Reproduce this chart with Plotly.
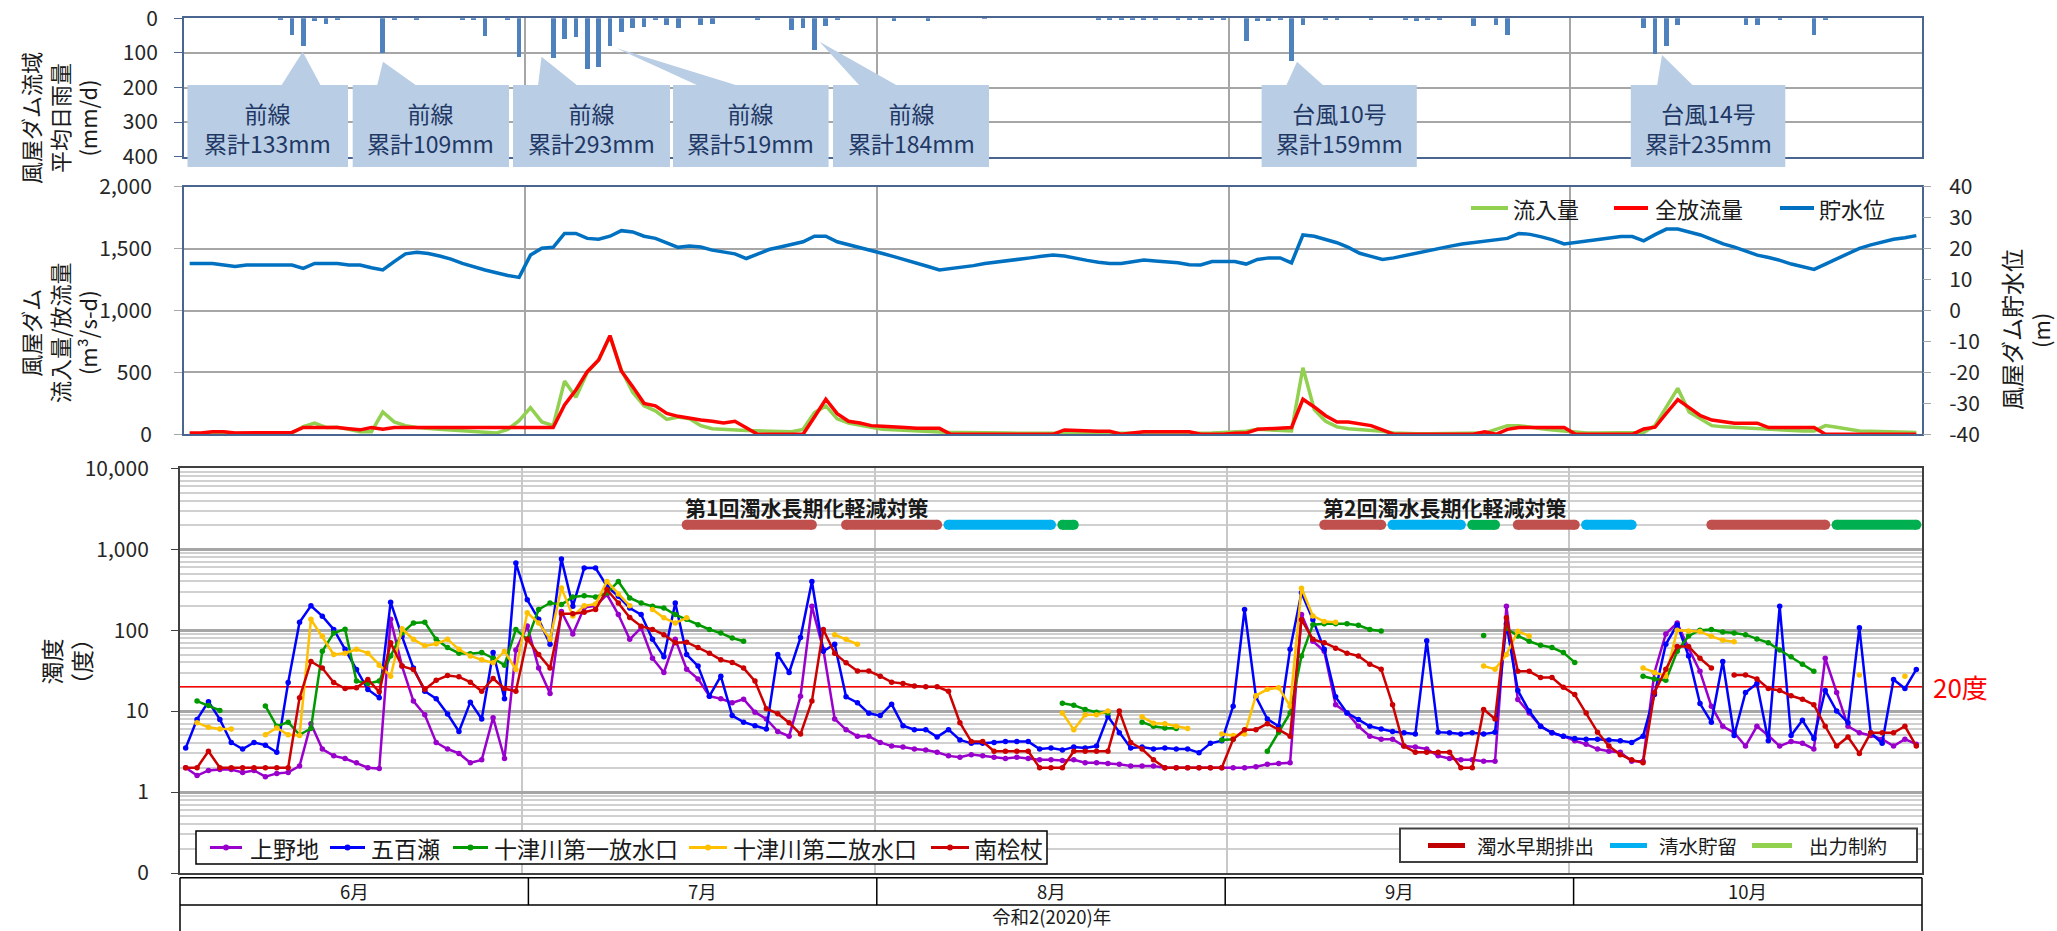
import plotly.graph_objects as go
import pandas as pd

N = None
# ---------------- data ----------------
days = pd.date_range("2020-06-01", "2020-10-31", freq="D")

rain_dates = ["2020-06-09","2020-06-10","2020-06-11","2020-06-12","2020-06-13","2020-06-14",
              "2020-06-18","2020-06-19","2020-06-21","2020-06-25","2020-06-26","2020-06-27","2020-06-29","2020-06-30",
              "2020-07-03","2020-07-04","2020-07-05","2020-07-06","2020-07-07","2020-07-08","2020-07-09","2020-07-10",
              "2020-07-11","2020-07-12","2020-07-13","2020-07-14","2020-07-16","2020-07-17","2020-07-21",
              "2020-07-24","2020-07-25","2020-07-26","2020-07-27","2020-07-28",
              "2020-08-02","2020-08-05","2020-08-10","2020-08-20","2020-08-21","2020-08-22","2020-08-23","2020-08-24",
              "2020-08-25","2020-08-27","2020-08-28","2020-08-29","2020-08-30","2020-08-31",
              "2020-09-02","2020-09-03","2020-09-04","2020-09-05","2020-09-06","2020-09-07","2020-09-09","2020-09-10",
              "2020-09-13","2020-09-16","2020-09-17","2020-09-18","2020-09-19","2020-09-22","2020-09-24","2020-09-25",
              "2020-10-07","2020-10-08","2020-10-09","2020-10-10","2020-10-16","2020-10-17","2020-10-19","2020-10-22","2020-10-23"]
rain_mm = [5,48,80,10,17,5, 101,4,3,4,7,53,5,113, 116,61,56,147,141,80,40,29, 26,5,20,29,19,16,5,
           36,29,92,24,5, 8,8,2,4,5,7,5,4, 5,4,6,7,5,4, 67,8,8,5,125,19,6,7, 6,3,8,7,3,22,19,48,
           29,103,80,21,19,19,4,48,6]

inflow = ([5,5,8,10,8,5,5,5,5,10, 62,90,55,57,40,20,20,180,100,70, 55,45,40,35,30,25,20,10,40,110]
          + [215,100,70,430,300,500,600,790,520,340, 230,190,120,140,125,70,45,38,32,30, 28,25,22,20,40,175,229,125,90,70, 57]
          + [40,35,30,25,20,15,15,15,12,12, 10,10,8,8,8,8,8,5,5,5, 5,8,8,5,5,5,5,5,5,10,15]
          + [20,25,40,35,30,27,538,200,105,60, 45,40,35,25,10,5,5,5,5,5, 5,5,10,40,70,70,55,45,35,27]
          + [20,10,10,10,10,10,15,72,220,371, 180,124,70,60,55,45,43,40,35,30, 27,27,70,57,45,27,25,21,20,18,15])
discharge = ([10,10,20,20,10,10,10,15,15,15, 55,55,55,55,45,36,55,40,55,55, 55,55,55,55,55,55,55,55,55,55]
             + [55,55,55,237,358,506,600,797,511,385, 250,230,168,145,128,115,105,91,105,50, 0,0,0,0,0,140,283,167,105,91, 70]
             + [65,62,55,48,48,48,0,0,0,0, 0,0,0,0,0,0,35,30,25,25, 25,0,10,21,21,21,21,21,0,0,0]
             + [8,10,40,45,50,55,283,221,150,100, 100,85,70,35,0,0,0,0,0,0, 0,0,21,0,40,55,55,55,55,55]
             + [0,0,0,0,0,0,43,57,170,280, 215,150,115,104,90,90,90,54,54,54, 54,54,0,0,0,0,0,0,0,0,0])
level = ([15.2,15.2,15.2,14.7,14.2,14.7,14.7,14.7,14.7,14.7, 13.6,15.2,15.2,15.2,14.7,14.7,13.8,13.1,15.8,18.3,
          18.8,18.4,17.6,16.6,15.2,14.1,13.1,12.2,11.3,10.7]
         + [17.9,20.1,20.4,24.9,24.9,23.3,23.0,24.0,25.8,25.4, 24.0,23.3,21.9,20.4,20.8,20.5,19.5,19.0,18.3,16.8,
            18.3,19.7,20.5,21.3,22.2,24.0,24.0,22.2,21.3,20.4, 19.4]
         + [18.4,17.4,16.4,15.4,14.2,13.1,13.5,14.0,14.5,15.2, 15.6,16.0,16.5,17.0,17.5,17.9,17.6,16.8,16.2,15.6,
            15.2,15.2,15.8,16.3,16.0,15.8,15.4,14.8,14.7,15.8,15.8]
         + [15.8,15.0,16.5,17.0,17.0,15.4,24.4,24.0,22.8,21.9, 20.4,18.5,17.5,16.5,17.0,17.8,18.5,19.3,20.1,20.8,
            21.5,22.0,22.4,22.9,23.3,24.9,24.6,23.8,22.8,21.5]
         + [22.0,22.6,23.0,23.4,23.9,23.9,22.5,24.5,26.3,26.3, 25.3,24.4,23.0,21.5,20.5,19.2,17.9,17.1,16.2,15.0,
            14.2,13.3,15.0,16.8,18.5,20.1,21.2,22.2,23.0,23.5,24.2])

station_names = ["上野地", "五百瀬", "十津川第一放水口", "十津川第二放水口", "南桧杖"]
uenoji = ([2.0,1.6,1.85,1.9,1.9,1.75,1.85,1.55,1.7,1.75, 2.1,7.0,3.4,2.8,2.6,2.3,2.0,1.95,136,36, 13.3,9.0,4.1,3.4,3.0,2.3,2.5,8.3,2.6,57]
          + [113,34,16.5,170,90,190,200,275,156,77, 107,45,30,77,33,25,15.3,14.2,12.7,14, 9.7,8.0,5.6,4.9,15.3,197,58,8.0,5.9,4.9, 4.9]
          + [4.1,3.7,3.6,3.4,3.3,3.1,2.8,2.7,2.9,2.8, 2.7,2.6,2.7,2.6,2.5,2.5,2.45,2.5,2.3,2.3, 2.25,2.2,2.1,2.1,2.1,2.0,2.0,2.0,2.0,2.0,2.0]
          + [2.0,2.0,2.05,2.2,2.25,2.3,156,73,55,12, 9.5,6.5,4.9,4.5,4.5,3.7,3.6,3.4,2.8,2.6, 2.5,2.5,2.4,2.4,197,13.9,9.5,6.5,5.4,4.9]
          + [4.3,3.9,3.4,3.2,3.1,2.4,2.4,30,90,123, 60,31,11.5,6.5,5.4,3.7,6.5,5.0,3.7,4.2, 4.0,3.4,45,17,6.5,5.4,5.0,4.5,3.7,4.5,3.9])
ioze = ([3.5,7.9,13.1,7.9,4.1,3.4,4.1,3.8,3.1,22.5, 125,200,149,102,58,32.7,18.5,14.6,222,84, 34,17.6,14.2,9.2,5.6,12.9,8.0,53,14.2,674]
        + [237,136,67,757,197,585,585,349,262,188, 156,77,47,217,50,36,15.3,27,8.8,7.3, 6.6,6.0,50,30,81,400,55,67,15,12.7, 9.4]
        + [8.8,12.2,6.6,5.9,5.9,4.8,5.9,4.4,4.0,4.0, 4.1,4.2,4.2,4.2,3.4,3.5,3.3,3.6,3.5,3.7, 8.6,5.4,3.5,3.6,3.4,3.5,3.4,3.4,3.07,4.0,4.3]
        + [11.5,180,15,8,6.5,58,290,135,58,15, 9.5,7.9,6.5,6.0,5.6,5.4,5.2,74,5.5,5.4, 5.2,5.4,5.2,5.5,120,18,10,6.5,5.4,4.9]
        + [4.6,4.5,4.5,4.4,4.3,4.1,4.9,16,67,117, 48,12.4,7.3,41,5.0,17,22,4.3,197,5.0, 7.7,4.6,18,10,7.2,107,5.4,4.0,24.6,19,32.7])
totsu1 = ([N,13.3,11.7,10.2,N,N,N,11.6,6.5,7.3, 5.1,6.1,55,92,103,23.5,22,23.5,48,92, 123,125,77,61,52,51,53,45,37,102]
          + [77,180,217,207,257,267,257,288,400,250, 217,197,188,156,136,117,102,92,80,73, N,N,N,N,N,N,N,N,N,N, N]
          + [N]*16 + [12.5,11.8,10.5,9.7,9.5, N,N, 7.3,6.5,6.2,6.1, N,N,N, 4.4]
          + [4.5,N,N,3.2,5.5,9.5,48,117,120,120, 120,115,102,98,N,N,N,N,N,N, N,N,86,N,105,85,73,65,61,53]
          + [40,N,N,N,N,N,27,25,24,55, 85,100,102,95,92,88,78,70,57,47, 38,31,N,N,N,N,N,N,N,N,N])
totsu2 = ([N,7.2,6.3,6.0,6.0,N,N,5.1,6.2,5.1, 5.0,136,84,50,52,58,52,37,27,104, 77,64,68,77,58,48,43,39.5,55,32.7]
          + [164,123,77,333,150,200,210,400,280,200, N,180,142,123,142,N,N,N,N,N, N,N,N,N,N,N,N,88,77,67, N]
          + [N]*16 + [9.5,5.9,9.0,9.0,10, N,N, 8.5,7.1,7.0,6.5,6.1, N,N, 5.2]
          + [5.0,5.2,15.5,18.6,19.5,11.5,330,150,128,125, N,N,N,N,N,N,N,N,N,N, N,N,36,33,50,97,85,N,N,N]
          + [N,N,N,N,N,N,34,30,27,100, 98,96,84,75,72,N,N,N,N,N, N,N,N,N,N,28,N,N,N,27,N])
minami = ([2.0,2.0,3.2,2.0,2.0,2.0,2.0,2.0,2.0,2.0, 14.6,41,34,22.5,19,19.4,24.6,17.3,70,36, 32.7,18.5,24,27.5,26.5,22.8,17.6,25.3,19,17.6]
          + [78,50,34,160,160,167,180,317,217,143, 112,102,88,70,71,61,52,43,40,34, 23.5,10.7,9.3,7.2,5.2,13.3,102,52,39.5,31.2, 31.2]
          + [27,22.8,22,20.4,20,20,17.6,7.2,4.2,4.2, 3.2,3.2,3.2,3.2,2.0,2.0,2.0,3.2,3.2,3.2, 3.2,10,4.1,3.4,2.5,2.0,2.0,2.0,2.0,2.0,2.0]
          + [4.5,5.9,5.9,7.0,5.9,4.9,135,77,70,60, 52,48,38,33,12,3.7,3.1,3.1,3.1,3.1, 2.0,2.0,10.5,8,142,31,31,26,26,19.7]
          + [16,9.5,5.5,3.7,2.9,2.5,2.3,17,33,63, 63,45,34,N,28,28,25,19,18,15.5, 14,12,6.5,3.7,4.8,3.0,5.4,5.4,5.4,6.5,3.7])

measure_types = ["濁水早期排出", "清水貯留", "出力制約"]
measure_kind = ["濁水早期排出","濁水早期排出","清水貯留","出力制約","濁水早期排出","清水貯留","出力制約",
                "濁水早期排出","清水貯留","濁水早期排出","出力制約"]
measure_start = ["2020-07-15","2020-07-29","2020-08-07","2020-08-17","2020-09-09","2020-09-15","2020-09-22",
                 "2020-09-26","2020-10-02","2020-10-13","2020-10-24"]
measure_end = ["2020-07-26","2020-08-06","2020-08-16","2020-08-18","2020-09-14","2020-09-21","2020-09-24",
               "2020-10-01","2020-10-06","2020-10-23","2020-10-31"]
measure_titles = ["第1回濁水長期化軽減対策", "第2回濁水長期化軽減対策"]
measure_title_dates = ["2020-07-15", "2020-09-09"]

callout_titles = ["前線", "前線", "前線", "前線", "前線", "台風10号", "台風14号"]
callout_totals = [133, 109, 293, 519, 184, 159, 235]

months = ["6月", "7月", "8月", "9月", "10月"]
year_label = "令和2(2020)年"
turbidity_limit = 20

for arr in (inflow, discharge, level, uenoji, ioze, totsu1, totsu2, minami):
    assert len(arr) == len(days), len(arr)

# ---------------- layout helpers ----------------
FONT = "Noto Sans CJK JP"
W, H, OFF = 2057, 931, 0
def fx(X): return (X - OFF) / W
def fy(Y): return 1 - (Y - OFF) / H

DAY = 86400000
xr = ["2020-06-01", "2020-11-01"]
month_starts = ["2020-07-01", "2020-08-01", "2020-09-01", "2020-10-01"]
grid_c = "#A6A6A6"
frame_c = "#4A6690"
tick_font = dict(family=FONT, size=21, color="#262626")

fig = go.Figure()

# top: rainfall bars
fig.add_trace(go.Bar(x=rain_dates, y=rain_mm, xperiod=DAY, xperiodalignment="middle",
                     width=0.42 * DAY, marker=dict(color="#4F81BD", line=dict(width=0)),
                     xaxis="x", yaxis="y"))

# middle: inflow / discharge / level
fig.add_trace(go.Scatter(x=days, y=inflow, mode="lines", line=dict(color="#92D050", width=3.5),
                         xperiod=DAY, xperiodalignment="middle", xaxis="x2", yaxis="y2"))
fig.add_trace(go.Scatter(x=days, y=discharge, mode="lines", line=dict(color="#FF0000", width=3.5),
                         xperiod=DAY, xperiodalignment="middle", xaxis="x2", yaxis="y2"))
fig.add_trace(go.Scatter(x=days, y=level, mode="lines", line=dict(color="#0070C0", width=3.5),
                         xperiod=DAY, xperiodalignment="middle", xaxis="x2", yaxis="y3"))

# bottom: 20 degree line
fig.add_trace(go.Scatter(x=xr, y=[turbidity_limit, turbidity_limit], mode="lines",
                         line=dict(color="#FF0000", width=1.5), xaxis="x3", yaxis="y4"))

station_colors = ["#9900CC", "#0000FF", "#009900", "#FFC000", "#CC0000"]
for vals, col in zip([uenoji, ioze, totsu1, totsu2, minami], station_colors):
    fig.add_trace(go.Scatter(x=days, y=vals, mode="lines+markers",
                             line=dict(color=col, width=2.5), marker=dict(color=col, size=5.5),
                             xperiod=DAY, xperiodalignment="middle", xaxis="x3", yaxis="y4"))

bar_colors = {"濁水早期排出": "#C0504D", "清水貯留": "#00B0F0", "出力制約": "#00B050"}
for k, s, e in zip(measure_kind, measure_start, measure_end):
    fig.add_trace(go.Scatter(x=[s, e], y=[2000, 2000], mode="lines+markers",
                             line=dict(color=bar_colors[k], width=10),
                             marker=dict(color=bar_colors[k], size=10, line=dict(width=0)),
                             xperiod=DAY, xperiodalignment="middle", xaxis="x3", yaxis="y4"))

minor_vals = [m * 10 ** e for e in range(-1, 4) for m in range(2, 10)]

fig.update_layout(
    width=W, height=H, autosize=False, margin=dict(l=0, r=0, t=0, b=0, pad=0, autoexpand=False),
    paper_bgcolor="white", plot_bgcolor="white", showlegend=False,
    font=dict(family=FONT, size=21, color="#262626"),
    bargap=0,
    xaxis=dict(domain=[fx(184), fx(1922)], range=xr, type="date", anchor="y", automargin=False,
               tickmode="array", tickvals=month_starts, showticklabels=False, ticks="",
               showgrid=True, gridcolor=grid_c, gridwidth=1.5, zeroline=False,
               showline=True, mirror=True, linecolor=frame_c, linewidth=2),
    yaxis=dict(domain=[fy(156.7), fy(18.3)], range=[400, 0], anchor="x", automargin=False,
               tickmode="array", tickvals=[0, 100, 200, 300, 400], ticks="outside", ticklen=8,
               tickcolor=frame_c, tickfont=tick_font, ticklabelstandoff=12,
               showgrid=True, gridcolor=grid_c, gridwidth=1.5, zeroline=False,
               showline=True, mirror=True, linecolor=frame_c, linewidth=2),
    xaxis2=dict(domain=[fx(184), fx(1922)], range=xr, type="date", anchor="y2", automargin=False,
                tickmode="array", tickvals=month_starts, showticklabels=False, ticks="",
                showgrid=True, gridcolor=grid_c, gridwidth=1.5, zeroline=False,
                showline=True, mirror=True, linecolor=frame_c, linewidth=2),
    yaxis2=dict(domain=[fy(434.3), fy(186.7)], range=[0, 2000], anchor="x2", automargin=False,
                tickmode="array", tickvals=[0, 500, 1000, 1500, 2000],
                ticktext=["0", "500", "1,000", "1,500", "2,000"],
                ticks="outside", ticklen=8, tickcolor=grid_c, tickfont=tick_font, ticklabelstandoff=18,
                showgrid=True, gridcolor=grid_c, gridwidth=1.5, zeroline=False,
                showline=True, mirror=True, linecolor=frame_c, linewidth=2),
    yaxis3=dict(overlaying="y2", side="right", range=[-40, 40], anchor="x2", automargin=False,
                tickmode="array", tickvals=list(range(-40, 41, 10)),
                ticktext=[str(v) for v in range(-40, 41, 10)],
                ticks="outside", ticklen=8, tickcolor=grid_c, tickfont=tick_font, ticklabelstandoff=14,
                showgrid=False, zeroline=False, showline=False),
    xaxis3=dict(domain=[fx(180), fx(1922)], range=xr, type="date", anchor="y4", automargin=False,
                tickmode="array", tickvals=month_starts, showticklabels=False, ticks="",
                showgrid=True, gridcolor="#C8C8C8", gridwidth=1.5, zeroline=False,
                showline=True, mirror=True, linecolor="#404040", linewidth=2),
    yaxis4=dict(domain=[fy(873), fy(468.3)], type="log", range=[-1, 4], anchor="x3", automargin=False,
                tickmode="array", tickvals=[0.1, 1, 10, 100, 1000, 10000],
                ticktext=["0", "1", "10", "100", "1,000", "10,000"],
                ticks="outside", ticklen=7, tickcolor="#404040", tickfont=tick_font, ticklabelstandoff=18,
                showgrid=True, gridcolor="#A6A6A6", gridwidth=2.5, zeroline=False,
                minor=dict(tickvals=minor_vals, showgrid=True, gridcolor="#D0D0D0", gridwidth=1.5, ticks=""),
                showline=True, mirror=True, linecolor="#404040", linewidth=2),
)

shapes, annos = [], []
def hline(x0, x1, y, color, width):
    shapes.append(dict(type="line", xref="paper", yref="paper", x0=fx(x0), x1=fx(x1), y0=fy(y), y1=fy(y),
                       line=dict(color=color, width=width)))
def vline(x, y0, y1, color, width):
    shapes.append(dict(type="line", xref="paper", yref="paper", x0=fx(x), x1=fx(x), y0=fy(y0), y1=fy(y1),
                       line=dict(color=color, width=width)))
def dot(cx, cy, r, color):
    shapes.append(dict(type="circle", xref="paper", yref="paper", x0=fx(cx - r), x1=fx(cx + r),
                       y0=fy(cy + r), y1=fy(cy - r), fillcolor=color, line=dict(width=0)))
def rect(x0, x1, y0, y1, fill, line_color=None, line_width=0):
    shapes.append(dict(type="rect", xref="paper", yref="paper", x0=fx(x0), x1=fx(x1), y0=fy(y1), y1=fy(y0),
                       fillcolor=fill, line=dict(color=line_color or fill, width=line_width), layer="above"))
def text(x, y, s, size, color="#1a1a1a", xanchor="left", angle=0, pad=1):
    annos.append(dict(x=fx(x), y=fy(y), xref="paper", yref="paper", text=s, showarrow=False,
                      xanchor=xanchor, yanchor="middle", textangle=angle, borderpad=pad,
                      font=dict(size=size, color=color, family=FONT)))

# callouts (top panel)
box_x = [(187.5, 348), (352.7, 509), (513, 670), (673, 828.6), (833, 989), (1261.6, 1416.8), (1630.8, 1785.3)]
tri = [((281, 321), (302.7, 51.7)), ((377, 417), (383, 61.7)), ((538, 578), (541.5, 56.7)),
       ((699, 739), (616, 48)), ((860, 898), (819.6, 41.7)), ((1286, 1324), (1297, 61.7)),
       ((1657, 1693.5), (1662, 55))]
box_c = "#B9CDE5"
for (bx0, bx1), ((t0, t1), (tx, ty)), ttl, tot in zip(box_x, tri, callout_titles, callout_totals):
    path = f"M {fx(t0)} {fy(86)} L {fx(tx)} {fy(ty)} L {fx(t1)} {fy(86)} Z"
    shapes.append(dict(type="path", path=path, xref="paper", yref="paper", fillcolor=box_c,
                       line=dict(width=0), layer="above"))
    rect(bx0, bx1, 85, 167, box_c)
    text((bx0 + bx1) / 2, 128, f"{ttl}<br>累計{tot}mm", 23, color="#1F3864", xanchor="center")

# axis titles
text(59, 118, "風屋ダム流域<br>平均日雨量<br>(mm/d)", 22, xanchor="center", angle=-90)
text(58, 333, "風屋ダム<br>流入量/放流量<br>(m³/s-d)", 22, xanchor="center", angle=-90)
text(2011, 330, "風屋ダム貯水位", 23, xanchor="center", angle=-90)
text(2040, 331, "(m)", 22, xanchor="center", angle=-90)
text(66, 662, "濁度<br>（度）", 23, xanchor="center", angle=-90)

# middle legend
mid_items = [("流入量", "#92D050", 1471, 1508, 1511), ("全放流量", "#FF0000", 1614, 1648, 1653),
             ("貯水位", "#0070C0", 1780, 1814, 1817)]
for lab, col, a, b, tx in mid_items:
    hline(a, b, 208, col, 4)
    text(tx, 208, lab, 22)

# measure titles
for ttl, d in zip(measure_titles, measure_title_dates):
    x_px = 180 + (pd.Timestamp(d) - pd.Timestamp(xr[0])).days * (1742 / 153)
    text(x_px + 2, 506.5, f"<b>{ttl}</b>", 21)

# 20 degree label
text(1931, 686, "20度", 26, color="#FF0000")

# bottom legend 1
rect(196, 1047, 831, 864, "white", "#000000", 1.5)
leg1 = [(210, 242, 248), (330, 365, 369), (453, 488, 492), (689, 727, 731), (931, 969, 972)]
for (a, b, tx), name, col in zip(leg1, station_names, station_colors):
    hline(a, b, 847.5, col, 3)
    dot((a + b) / 2, 847.5, 3, col)
    text(tx, 847.5, name, 23)

# bottom legend 2
rect(1400, 1917, 828.5, 862, "white", "#404040", 2)
leg2 = [(1428, 1465, 1475, "#C00000"), (1610, 1647, 1657, "#00B0F0"), (1752, 1792, 1807, "#92D050")]
for (a, b, tx, col), name in zip(leg2, measure_types):
    hline(a, b, 845.5, col, 5)
    text(tx, 845.5, name, 19.5)

# month table
tb_l, tb_r, tb_t, tb_m, tb_b = 180, 1922, 877.7, 905, 932
hline(tb_l, tb_r, tb_t, "#000000", 1.5)
hline(tb_l, tb_r, tb_m, "#000000", 1.5)
vline(tb_l, tb_t, tb_b, "#000000", 1.5)
vline(tb_r, tb_t, tb_b, "#000000", 1.5)
col_w = (tb_r - tb_l) / len(months)
for i, m in enumerate(months):
    if i > 0:
        vline(tb_l + i * col_w, tb_t, tb_m, "#000000", 1.5)
    text(tb_l + (i + 0.5) * col_w, 890.5, m, 18.5, xanchor="center", pad=0)
text((tb_l + tb_r) / 2, 916, year_label, 18.5, xanchor="center", pad=0)

fig.update_layout(shapes=shapes, annotations=annos)
fig.write_html("out.html", config={"displayModeBar": False},
               post_script="document.body.style.margin='0px';document.body.style.overflow='hidden';")
